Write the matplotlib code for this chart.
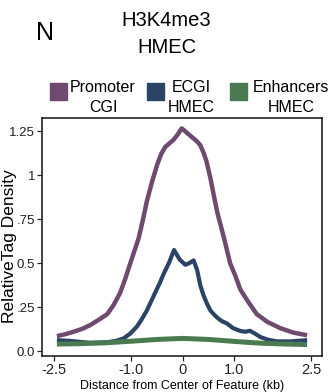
import matplotlib
matplotlib.use("Agg")
import matplotlib.pyplot as plt
from matplotlib.patches import Rectangle

plt.rcParams["font.family"] = ["Liberation Sans", "DejaVu Sans"]

# Profiles of relative tag density around feature centres (kb)
promoter_x = [-2.45, -2.3, -2.12, -1.95, -1.80, -1.65, -1.47, -1.35, -1.22, -1.12,
              -1.02, -0.94, -0.86, -0.78, -0.70, -0.60, -0.50, -0.42, -0.34, -0.26,
              -0.18, -0.10, -0.02, 0.04, 0.10, 0.20, 0.28, 0.34, 0.40, 0.46, 0.54,
              0.60, 0.67, 0.76, 0.83, 0.92, 1.02, 1.12, 1.25, 1.44, 1.65, 1.90,
              2.15, 2.42]
promoter_y = [0.085, 0.095, 0.11, 0.127, 0.148, 0.175, 0.21, 0.26, 0.33, 0.41,
              0.50, 0.57, 0.64, 0.74, 0.85, 0.96, 1.057, 1.12, 1.16, 1.18,
              1.20, 1.23, 1.265, 1.25, 1.235, 1.21, 1.19, 1.17, 1.13, 1.08, 0.98,
              0.89, 0.79, 0.69, 0.61, 0.50, 0.43, 0.35, 0.29, 0.21, 0.165, 0.13,
              0.105, 0.09]

ecgi_x = [-2.45, -2.2, -2.0, -1.80, -1.65, -1.47, -1.30, -1.15, -1.02, -0.89, -0.80,
          -0.70, -0.62, -0.54, -0.45, -0.37, -0.27, -0.17, -0.06, 0.05, 0.13, 0.21,
          0.28, 0.34, 0.40, 0.47, 0.54, 0.60, 0.67, 0.76, 0.86, 0.98, 1.12, 1.22,
          1.31, 1.40, 1.51, 1.65, 1.83, 2.1, 2.42]
ecgi_y = [0.062, 0.058, 0.052, 0.047, 0.048, 0.05, 0.058, 0.072, 0.10, 0.14, 0.18,
          0.23, 0.28, 0.33, 0.385, 0.44, 0.50, 0.574, 0.52, 0.49, 0.50, 0.515,
          0.46, 0.375, 0.32, 0.27, 0.23, 0.21, 0.19, 0.17, 0.157, 0.13, 0.114, 0.11,
          0.115, 0.10, 0.08, 0.065, 0.055, 0.055, 0.062]

enh_x = [-2.45, -2.0, -1.5, -1.0, -0.5, 0.0, 0.5, 1.0, 1.5, 2.0, 2.42]
enh_y = [0.040, 0.042, 0.047, 0.056, 0.066, 0.072, 0.066, 0.055, 0.045, 0.040, 0.037]

series_labels = [("Promoter", "CGI"), ("ECGI", "HMEC"), ("Enhancers", "HMEC")]
series_colors = ["#6e4a6f", "#2b4465", "#4a7a50"]

x_ticks = [-2.5, -1.0, 0, 1.0, 2.5]
x_ticklabels = ["-2.5", "-1.0", "0", "1.0", "2.5"]
y_ticks = [0.0, 0.25, 0.5, 0.75, 1.0, 1.25]
y_ticklabels = ["0.0", ".25", "0.5", ".75", "1", "1.25"]

W, H = 336, 392
fig = plt.figure(figsize=(W / 100, H / 100), dpi=100)
ax = fig.add_axes([42 / W, 1 - 356 / H, (322 - 42) / W, (356 - 118) / H])

ax.plot(promoter_x, promoter_y, color=series_colors[0], lw=3.2,
        solid_capstyle="butt", solid_joinstyle="round")
ax.plot(ecgi_x, ecgi_y, color=series_colors[1], lw=3.0,
        solid_capstyle="butt", solid_joinstyle="round")
ax.plot(enh_x, enh_y, color=series_colors[2], lw=3.6,
        solid_capstyle="butt", solid_joinstyle="round")

ax.set_xlim(-2.74, 2.71)
ax.set_ylim(-0.028, 1.324)
ax.set_xticks(x_ticks)
ax.set_xticklabels(x_ticklabels, fontsize=10.5)
ax.set_yticks(y_ticks)
ax.set_yticklabels(y_ticklabels, fontsize=9.5)
ax.tick_params(direction="out", length=3.5, width=0.9, pad=1.5, colors="#222222")
for s in ax.spines.values():
    s.set_linewidth(1.1)
    s.set_color("#111111")

ax.set_xlabel("Distance from Center of Feature (kb)", fontsize=9, labelpad=2)
fig.text(9.5 / W, 1 - 246 / H, "RelativeTag Density", fontsize=12.5,
         rotation=90, ha="center", va="center")

# Panel letter and title
fig.text(45 / W, 1 - 33 / H, "N", fontsize=18, ha="center", va="center")
fig.text(166 / W, 1 - 21 / H, "H3K4me3", fontsize=14.5, ha="center", va="center")
fig.text(167 / W, 1 - 47.5 / H, "HMEC", fontsize=14.5, ha="center", va="center")

# Legend: colour squares with two-line centred labels
box_x = [50, 147, 230]
text_cx = [103, 191, 291]
for (l1, l2), c, bx, tx in zip(series_labels, series_colors, box_x, text_cx):
    fig.patches.append(Rectangle((bx / W, 1 - 100 / H), 17 / W, 17 / H,
                                 transform=fig.transFigure, color=c))
    fig.text(tx / W, 1 - 87.5 / H, l1, fontsize=11.5, ha="center", va="center")
    fig.text(tx / W, 1 - 108 / H, l2, fontsize=11.5, ha="center", va="center")

fig.savefig("out.png", dpi=100)
